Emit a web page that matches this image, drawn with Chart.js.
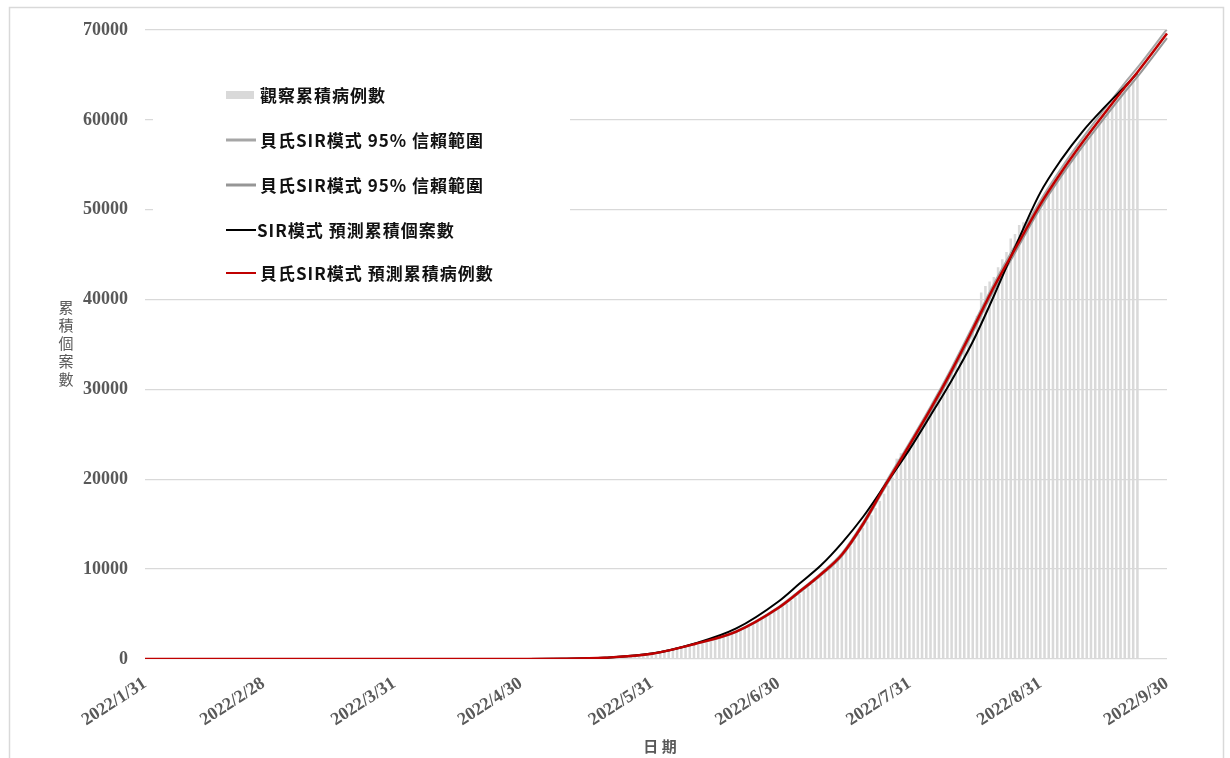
<!DOCTYPE html>
<html>
<head>
<meta charset="utf-8">
<title>累積個案數</title>
<script src="https://cdn.jsdelivr.net/npm/chart.js@4.4.1/dist/chart.umd.min.js"></script>
<style>
  html, body { margin: 0; padding: 0; background: #fff; }
  #chart { display: block; }
</style>
</head>
<body>
<canvas id="chart" width="1230" height="758"></canvas>
<script>
// every day from 2022/1/31 to 2022/9/30 is one category
const dateLabels = [];
for (let d = new Date(2022, 0, 31); d <= new Date(2022, 8, 30); d.setDate(d.getDate() + 1)) {
  dateLabels.push(`${d.getFullYear()}/${d.getMonth() + 1}/${d.getDate()}`);
}

// dates shown under the x axis
const tickLabels = [
  "2022/1/31", "2022/2/28", "2022/3/31", "2022/4/30", "2022/5/31",
  "2022/6/30", "2022/7/31", "2022/8/31", "2022/9/30",
];

// observed cumulative cases, one per day starting 2022/5/9
const observedStart = "2022/5/9";
const observedCases = [
  20, 30, 40, 50, 60, 70, 80, 90, 100, 120,
  130, 150, 170, 200, 230, 260, 290, 330, 380, 430,
  480, 550, 620, 690, 770, 860, 950, 1040, 1140, 1250,
  1360, 1480, 1600, 1730, 1870, 2010, 2160, 2310, 2470, 2630,
  2800, 2970, 3150, 3340, 3540, 3750, 3970, 4200, 4450, 4710,
  4980, 5260, 5550, 5860, 6180, 6510, 6860, 7220, 7590, 7970,
  8360, 8760, 9170, 9600, 10040, 10500, 10970, 11460, 12000, 12600,
  13200, 13900, 14600, 15300, 16000, 16800, 17600, 18400, 19300, 20200,
  22300, 22900, 23300, 23800, 24400, 25200, 26000, 26800, 27600, 28400,
  29200, 30100, 31000, 31900, 32800, 33800, 34800, 35800, 36800, 38200,
  40800, 41500, 42000, 42500, 43600, 44500, 45300, 46800, 47300, 48300,
  48600, 48900, 49200, 49700, 50300, 51000, 51800, 52600, 53400, 54200,
  54900, 55600, 56300, 57000, 57600, 58200, 58800, 59400, 60000, 60600,
  61200, 61800, 62400, 62900, 63400, 63900, 64400, 64900,
];

// model curves, sampled on these dates
const modelDates = [
  "2022/1/31", "2022/4/30", "2022/5/10", "2022/5/20", "2022/5/31", "2022/6/10",
  "2022/6/20", "2022/6/30", "2022/7/5", "2022/7/10", "2022/7/15", "2022/7/20",
  "2022/7/25", "2022/7/31", "2022/8/5", "2022/8/10", "2022/8/15", "2022/8/20",
  "2022/8/25", "2022/8/31", "2022/9/5", "2022/9/10", "2022/9/15", "2022/9/20",
  "2022/9/23", "2022/9/30",
];
const bayesUpper = [
  0, 10, 30, 160, 600, 1680, 3100, 5780, 7600, 9520, 11750, 15180, 19320,
  24050, 28080, 32400, 37030, 41750, 45980, 51000, 54640, 57960, 61080, 64100,
  65800, 70100,
];
const bayesLower = [
  0, 10, 30, 140, 560, 1620, 3000, 5620, 7400, 9280, 11450, 14820, 18880,
  23550, 27520, 31800, 36370, 41050, 45220, 50200, 53760, 57040, 60120, 63100,
  64800, 69100,
];
const sirPredicted = [
  0, 10, 30, 150, 600, 1700, 3400, 6400, 8400, 10400, 12900, 15800, 19200,
  23300, 27100, 31000, 35300, 40400, 45800, 51900, 55600, 58700, 61300, 63700,
  65200, null,
];
const bayesPredicted = [
  0, 10, 30, 150, 580, 1650, 3050, 5700, 7500, 9400, 11600, 15000, 19100,
  23800, 27800, 32100, 36700, 41400, 45600, 50600, 54200, 57500, 60600, 63600,
  65300, 69600,
];

const startIndex = dateLabels.indexOf(observedStart);
const toPoints = (dates, values) => dates.map((x, i) => ({ x, y: values[i] }));

const serif = '"Liberation Serif", "Noto Sans CJK TC", serif';
const cjk = '"Noto Sans CJK TC", "Liberation Serif", sans-serif';
const axisGray = "#595959";

const lineStyle = {
  type: "line",
  pointRadius: 0,
  fill: false,
  cubicInterpolationMode: "monotone",
};

// white page, outer frame, legend panel and axis titles
const decorations = {
  id: "decorations",
  beforeDraw(chart) {
    const { ctx } = chart;
    ctx.save();
    ctx.fillStyle = "#fff";
    ctx.fillRect(0, 0, chart.width, chart.height);
    ctx.restore();
  },
  beforeDatasetsDraw(chart) {
    const { ctx } = chart;
    ctx.save();
    ctx.fillStyle = "#fff";
    ctx.fillRect(153, 62, 417, 232);

    const rows = [95, 140, 185, 230, 273];
    chart.data.datasets.forEach((ds, i) => {
      const y = rows[i];
      if (ds.type === "line") {
        ctx.strokeStyle = ds.borderColor;
        ctx.lineWidth = ds.legendWidth;
        ctx.beginPath();
        ctx.moveTo(226, y);
        ctx.lineTo(256, y);
        ctx.stroke();
      } else {
        ctx.fillStyle = ds.backgroundColor;
        ctx.fillRect(226, y - 4, 28, 8);
      }
      ctx.fillStyle = "#111";
      ctx.font = `bold 17px ${cjk}`;
      ctx.letterSpacing = "1px";
      ctx.textAlign = "left";
      ctx.textBaseline = "middle";
      ctx.fillText(ds.label, ds.type === "line" && ds.borderColor === "#000" ? 257 : 260, y + 1);
    });
    ctx.restore();
  },
  afterDraw(chart) {
    const { ctx } = chart;
    ctx.save();
    ctx.strokeStyle = "#d9d9d9";
    ctx.lineWidth = 1.5;
    ctx.beginPath();
    ctx.moveTo(9.5, 770);
    ctx.lineTo(9.5, 7.5);
    ctx.lineTo(1223.5, 7.5);
    ctx.lineTo(1223.5, 770);
    ctx.stroke();

    ctx.fillStyle = axisGray;
    ctx.font = `15px ${cjk}`;
    ctx.textAlign = "center";
    ctx.textBaseline = "middle";
    [..."累積個案數"].forEach((ch, i) => ctx.fillText(ch, 66, 307 + i * 18));

    ctx.font = `bold 15px ${cjk}`;
    ctx.fillText("日 期", 660, 746);
    ctx.restore();
  },
};

const myChart = new Chart(document.getElementById("chart"), {
  type: "bar",
  data: {
    labels: dateLabels,
    datasets: [
      {
        label: "觀察累積病例數",
        data: observedCases.map((y, i) => ({ x: dateLabels[startIndex + i], y })),
        backgroundColor: "#d9d9d9",
        categoryPercentage: 1,
        barPercentage: 0.6,
        order: 5,
      },
      {
        ...lineStyle,
        label: "貝氏SIR模式 95% 信賴範圍",
        data: toPoints(modelDates, bayesUpper),
        borderColor: "#a6a6a6",
        borderWidth: 2,
        legendWidth: 3,
        order: 4,
      },
      {
        ...lineStyle,
        label: "貝氏SIR模式 95% 信賴範圍",
        data: toPoints(modelDates, bayesLower),
        borderColor: "#969696",
        borderWidth: 2,
        legendWidth: 3,
        order: 3,
      },
      {
        ...lineStyle,
        label: "SIR模式 預測累積個案數",
        data: toPoints(modelDates, sirPredicted),
        borderColor: "#000",
        borderWidth: 2,
        legendWidth: 2,
        order: 2,
      },
      {
        ...lineStyle,
        label: "貝氏SIR模式 預測累積病例數",
        data: toPoints(modelDates, bayesPredicted),
        borderColor: "#c00000",
        borderWidth: 2.5,
        legendWidth: 2,
        order: 1,
      },
    ],
  },
  options: {
    responsive: false,
    animation: false,
    layout: { padding: { top: 30, right: 63, left: 0, bottom: 0 } },
    plugins: {
      legend: { display: false },
      tooltip: { enabled: false },
    },
    scales: {
      x: {
        offset: false,
        grid: { display: false },
        border: { display: false },
        ticks: {
          autoSkip: false,
          minRotation: 33,
          maxRotation: 33,
          padding: 6,
          color: axisGray,
          font: { family: serif, size: 18, weight: "bold" },
          callback(value) {
            const label = this.getLabelForValue(value);
            return tickLabels.includes(label) ? label : "";
          },
        },
        afterFit(scale) {
          scale.height = 99;
        },
      },
      y: {
        min: 0,
        max: 70000,
        grid: { color: "#d9d9d9", lineWidth: 1.3, drawTicks: false },
        border: { display: false },
        ticks: {
          stepSize: 10000,
          padding: 17,
          color: axisGray,
          font: { family: serif, size: 18, weight: "bold" },
          callback: (value) => String(value),
        },
        afterFit(scale) {
          scale.width = 145;
        },
      },
    },
  },
  plugins: [decorations],
});
</script>
</body>
</html>
